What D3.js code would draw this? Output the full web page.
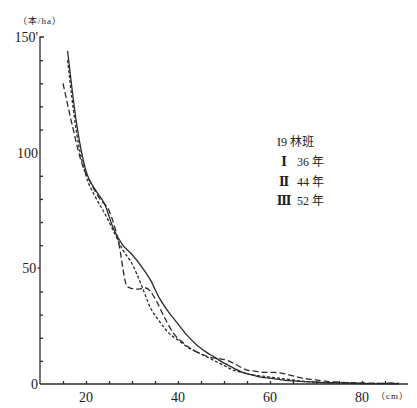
<!DOCTYPE html>
<html>
<head>
<meta charset="utf-8">
<script src="https://cdn.jsdelivr.net/npm/d3@7"></script>
<style>
	body { margin: 0; background: #fff; }
	text { font-family: "Liberation Serif", "Noto Sans CJK JP", serif; fill: #222; }
</style>
</head>
<body>
<svg id="chart"></svg>
<script>
//diameter classes (cm) and stems per ha for the three stands
const seriesI = [ //solid
	[16, 144], [18, 112], [20, 92], [22, 84], [24, 78], [26, 67], [28, 60], [30, 56],
	[32, 51], [34, 45], [36, 37], [38, 31], [40, 26], [42, 21], [44, 17], [46, 14],
	[48, 11.5], [50, 9], [52, 7], [54, 5], [56, 4], [58, 3], [60, 2.5], [62, 2],
	[64, 1.5], [66, 1.2], [68, 1], [70, 0.8], [72, 0.6], [74, 0.5], [76, 0.4],
	[78, 0.3], [80, 0.2], [84, 0.2], [88, 0.1]
];
const seriesII = [ //long dashes
	[15, 130], [17, 112], [19, 96], [21, 87], [23, 80], [25, 75], [27, 62], [29, 42],
	[31, 41], [33, 41.5], [35, 37], [37, 29], [39, 22], [41, 18], [43, 15], [45, 13],
	[47, 11.5], [49, 11], [51, 10], [53, 8], [55, 6], [57, 5.5], [59, 5], [61, 5],
	[63, 4.5], [65, 3.5], [67, 2.5], [69, 2], [71, 1.5], [73, 1], [75, 0.8],
	[77, 0.6], [79, 0.5], [81, 0.4], [83, 0.3], [85, 0.3], [87, 0.5]
];
const seriesIII = [ //short dashes
	[16, 140], [18, 108], [20, 90], [22, 81], [24, 74], [26, 66], [28, 58], [30, 52],
	[32, 43], [34, 33], [36, 27], [38, 22], [40, 19], [42, 16], [44, 14], [46, 12],
	[48, 10], [50, 8], [52, 6], [54, 5], [56, 4], [58, 3.5], [60, 3], [62, 2.5],
	[64, 2], [66, 1.5], [68, 1], [70, 0.8], [72, 0.6], [74, 0.5], [78, 0.4],
	[82, 0.3], [86, 0.3], [88, 0.4]
];
const xTicks = [15, 20, 25, 30, 35, 40, 45, 50, 55, 60, 65, 70, 75, 80, 85];
const xLabels = [20, 40, 60, 80];
const yTicks = [10, 20, 30, 40, 60, 70, 80, 90, 110, 120, 130, 140];
const yLabels = [[0, "0"], [50, "50·"], [100, "100"], [150, "150'"]];
const legendTitle = "I9 林班";
const legendNums = ["Ⅰ", "Ⅱ", "Ⅲ"];
const legendAges = ["36 年", "44 年", "52 年"];

const width = 417, height = 408;
const svg = d3.select("#chart").attr("width", width).attr("height", height);

const x = d3.scaleLinear().domain([10, 90]).range([40, 408]);
const y = d3.scaleLinear().domain([0, 150]).range([384, 37]);

const ink = "#2a2a2a";

//axes with d3 axis generators, ticks pointing inward
svg.append("g")
	.attr("transform", `translate(0, ${y(0)})`)
	.call(d3.axisTop(x).tickValues(xTicks).tickSize(3).tickFormat(""))
	.call((g) => g.select(".domain").attr("d", `M${x(10)},0H${x(90)}`))
	.call((g) => g.selectAll("line,path").attr("stroke", ink).attr("stroke-width", 1.3));

svg.append("g")
	.attr("transform", `translate(${x(10)}, 0)`)
	.call(d3.axisRight(y).tickValues(yTicks).tickSize(3).tickFormat(""))
	.call((g) => g.select(".domain").attr("d", `M0,${y(0)}V${y(150)}h4`))
	.call((g) => g.selectAll("line,path").attr("stroke", ink).attr("stroke-width", 1.3));

//tick labels
svg.selectAll(".xlab")
	.data(xLabels)
	.enter()
	.append("text")
	.attr("x", (d) => x(d))
	.attr("y", 402)
	.attr("text-anchor", "middle")
	.style("font-size", "14px")
	.text((d) => d);

svg.selectAll(".ylab")
	.data(yLabels)
	.enter()
	.append("text")
	.attr("x", (d) => (d[0] == 50 ? 41 : 38))
	.attr("y", (d) => y(d[0]) + 5)
	.attr("text-anchor", "end")
	.style("font-size", "14px")
	.text((d) => d[1]);

//units
svg.append("text").attr("x", 18).attr("y", 24).style("font-size", "9px")
	.style("letter-spacing", "1px").text("（本/ha）");
svg.append("text").attr("x", 376).attr("y", 399).style("font-size", "9px")
	.style("letter-spacing", "1px").text("（cm）");

//the three curves
const line = d3.line()
	.x((d) => x(d[0]))
	.y((d) => y(d[1]))
	.curve(d3.curveMonotoneX);

[
	[seriesI, null],
	[seriesII, "6,3"],
	[seriesIII, "3,2"],
].forEach(([data, dash]) => {
	svg.append("path")
		.datum(data)
		.attr("fill", "none")
		.attr("stroke", ink)
		.attr("stroke-width", 1.3)
		.attr("stroke-dasharray", dash)
		.attr("d", line);
});

//legend
svg.append("text").attr("x", 277).attr("y", 146).style("font-size", "12px").text(legendTitle);
legendNums.forEach((n, i) => {
	svg.append("text")
		.attr("x", 284).attr("y", 166 + i * 19.5)
		.attr("text-anchor", "middle")
		.style("font-family", "DejaVu Serif")
		.style("font-weight", "bold")
		.style("font-size", "12px")
		.text(n);
	svg.append("text")
		.attr("x", 297).attr("y", 166 + i * 19.5)
		.style("font-size", "12px")
		.text(legendAges[i]);
});
</script>
</body>
</html>
